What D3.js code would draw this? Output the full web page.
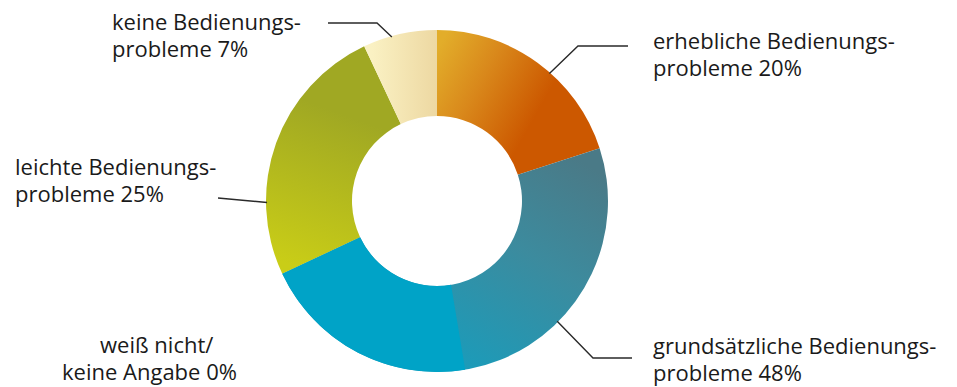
<!DOCTYPE html>
<html>
<head>
<meta charset="utf-8">
<script src="https://cdn.jsdelivr.net/npm/d3@7"></script>
<style>
  html, body { margin: 0; padding: 0; background: #fff; }
  .label { font-family: "Open Sans", "Noto Sans", sans-serif; font-size: 22px; fill: #1a1a1a; }
  .leader { fill: none; stroke: #2a2a2a; stroke-width: 1.4; }
</style>
</head>
<body>
<div class="chart"></div>
<script>
// Chart data
var categories = ["erhebliche", "grundsätzliche", "weiß nicht", "leichte", "keine"];
var values = [20, 48, 0, 25, 7];
var labelFirstLines = ["erhebliche Bedienungs-", "grundsätzliche Bedienungs-", "weiß nicht/", "leichte Bedienungs-", "keine Bedienungs-"];
var labelSecondPrefix = ["probleme ", "probleme ", "keine Angabe ", "probleme ", "probleme "];

var svgWidth = 957;
var svgHeight = 387;
var cx = 437, cy = 201;
var outerR = 171, innerR = 85;

// label layout: text position and leader line (angle on ring, elbow, end)
var layout = [
  { x: 653, y: 49, x2: 653, leaderAngle: 41.4, elbow: [578, 46], end: [628, 46] },
  { x: 653, y: 354, x2: 653, leaderAngle: 135, elbow: [593, 358], end: [632, 358] },
  { x: 100, y: 353, x2: 62, leaderAngle: null },
  { x: 15, y: 175, x2: 15, leaderAngle: 269.5, elbow: null, end: [218, 198] },
  { x: 112, y: 30, x2: 112, leaderAngle: 344.6, elbow: [377, 23], end: [328, 23] }
];

// gradients in page coordinates
var gradients = [
  { x1: 437, y1: 50, x2: 540, y2: 108, stops: [[0, "#e2ad2a"], [0.45, "#d9881b"], [1, "#cc5800"]] },
  { x1: 595, y1: 170, x2: 470, y2: 370, stops: [[0, "#4a7a87"], [0.45, "#3c8b9e"], [1, "#1c9bb9"]] },
  { x1: 0, y1: 0, x2: 1, y2: 0, stops: [[0, "#00a3c7"], [1, "#00a3c7"]] },
  { x1: 290, y1: 265, x2: 345, y2: 115, stops: [[0, "#c9cd17"], [1, "#a0a823"]] },
  { x1: 372, y1: 0, x2: 437, y2: 0, stops: [[0, "#faf1c3"], [1, "#edd8a2"]] }
];
// the blue slice turns solid after this angle (degrees)
var seamAngle = 170.5;
var seamColor = "#00a3c7";

var svg = d3.select(".chart")
  .append("svg")
  .attr("width", svgWidth)
  .attr("height", svgHeight);

var defs = svg.append("defs");
gradients.forEach(function(g, i) {
  var lg = defs.append("linearGradient")
    .attr("id", "grad" + i)
    .attr("gradientUnits", "userSpaceOnUse")
    .attr("gradientTransform", "translate(" + (-cx) + "," + (-cy) + ")")
    .attr("x1", g.x1).attr("y1", g.y1)
    .attr("x2", g.x2).attr("y2", g.y2);
  g.stops.forEach(function(s) {
    lg.append("stop").attr("offset", s[0]).attr("stop-color", s[1]);
  });
});

var pie = d3.pie().sort(null).value(function(d) { return d; });
var arc = d3.arc().innerRadius(innerR).outerRadius(outerR);
var arcs = pie(values);

var ring = svg.append("g")
  .attr("transform", "translate(" + cx + "," + cy + ")");

ring.selectAll("path.slice")
  .data(arcs.filter(function(d) { return d.value > 0; }))
  .enter()
  .append("path")
  .attr("class", "slice")
  .attr("d", arc)
  .attr("fill", function(d) { return "url(#grad" + d.index + ")"; });

// solid tail of the large slice
var big = arcs[1];
ring.append("path")
  .attr("d", arc({ startAngle: seamAngle * Math.PI / 180, endAngle: big.endAngle }))
  .attr("fill", seamColor);

// leader lines
function ringPoint(deg, r) {
  var a = deg * Math.PI / 180;
  return [cx + r * Math.sin(a), cy - r * Math.cos(a)];
}

var line = d3.line();
layout.forEach(function(l) {
  if (l.leaderAngle === null) return;
  var pts = [ringPoint(l.leaderAngle, outerR - 1)];
  if (l.elbow) pts.push(l.elbow);
  pts.push(l.end);
  svg.append("path").attr("class", "leader").attr("d", line(pts));
});

// labels
var labels = svg.append("g");
categories.forEach(function(c, i) {
  var l = layout[i];
  var t = labels.append("text").attr("class", "label");
  t.append("tspan").attr("x", l.x).attr("y", l.y).text(labelFirstLines[i]);
  t.append("tspan").attr("x", l.x2).attr("y", l.y + 27).text(labelSecondPrefix[i] + values[i] + "%");
});
</script>
</body>
</html>
